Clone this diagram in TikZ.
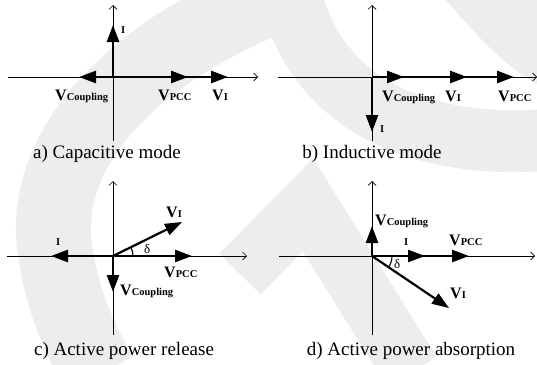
\documentclass[tikz,border=0pt]{standalone}
\usepackage{fontspec}
\setmainfont{Liberation Serif}
\usetikzlibrary{arrows.meta}
\newcommand{\Vph}[1]{{\fontsize{16}{16}\selectfont\bfseries V}{\fontsize{10.5}{10.5}\selectfont\bfseries #1}}
\newcommand{\Iph}{{\fontsize{10.5}{10.5}\selectfont\bfseries I}}

\begin{document}
\begin{tikzpicture}[x=1pt, y=-1pt,
  axis/.style={-{Straight Barb[length=4pt,width=8pt]}, line width=0.7pt},
  vec/.style={-{Triangle[length=17pt,width=12pt]}, line width=2.6pt},
  lab/.style={anchor=base west, inner sep=0pt},
  captxt/.style={anchor=base, inner sep=0pt, font=\fontsize{19}{19}\selectfont},
  angarc/.style={line width=1.1pt},
  wmark/.style={draw=black!7, line cap=butt}]
%
\useasboundingbox (0,0) rectangle (537,364);
%
% faint logo in the background
\draw[wmark, line width=75pt] (290,-10) .. controls (130,50) and (40,150) .. (55,250) .. controls (62,300) and (80,340) .. (100,375);
\draw[wmark, line width=62pt] (290,-10) .. controls (310,90) and (400,150) .. (545,140);
\fill[black!7] (445,-1) .. controls (480,40) and (510,70) .. (538,85) -- (538,-1) -- cycle;
\draw[wmark, line width=58pt, line join=miter] (240,274) -- (308,205) -- (412,372);
%
% a) capacitive mode
\coordinate (Oa) at (113,77);
\coordinate (XLa) at (8,77);
\coordinate (XRa) at (258,77);
\coordinate (YBa) at (113,141);
\coordinate (YTa) at (113,5);
\coordinate (Ia) at (113,25);
\coordinate (Ca) at (79,77);
\coordinate (Pa) at (188,77);
\coordinate (Va) at (228,77);
\draw[axis] (XLa) -- (XRa);
\draw[axis] (YBa) -- (YTa);
\path (Oa) edge[vec] (Va);
\path (Oa) edge[vec] (Pa);
\path (Oa) edge[vec] (Ca);
\path (Oa) edge[vec] (Ia);
\node (ILa) [lab] at (121,33) {\Iph};
\node (VCa) [lab] at (55,100) {\Vph{Coupling}};
\node (VPa) [lab] at (158,100) {\Vph{PCC}};
\node (VIa) [lab] at (212,100) {\Vph{I}};
\node (capa) [captxt] at (107,158) {a) Capacitive mode};
%
% b) inductive mode
\coordinate (Ob) at (372,77);
\coordinate (XLb) at (278,77);
\coordinate (XRb) at (537,77);
\coordinate (YBb) at (372,141);
\coordinate (YTb) at (372,5);
\coordinate (Ib) at (372,132);
\coordinate (Cb) at (404,77);
\coordinate (Vb) at (467,77);
\coordinate (Pb) at (514,77);
\draw[axis] (XLb) -- (XRb);
\draw[axis] (YBb) -- (YTb);
\path (Ob) edge[vec] (Pb);
\path (Ob) edge[vec] (Vb);
\path (Ob) edge[vec] (Cb);
\path (Ob) edge[vec] (Ib);
\node (ILb) [lab] at (380,132) {\Iph};
\node (VCb) [lab] at (382,101) {\Vph{Coupling}};
\node (VIb) [lab] at (445,101) {\Vph{I}};
\node (VPb) [lab] at (498,101) {\Vph{PCC}};
\node (capb) [captxt] at (372,158) {b) Inductive mode};
%
% c) active power release
\coordinate (Oc) at (113,256);
\coordinate (XLc) at (7,256);
\coordinate (XRc) at (247,256);
\coordinate (YBc) at (113,335);
\coordinate (YTc) at (113,181);
\coordinate (Ic) at (51,256);
\coordinate (Pc) at (192,256);
\coordinate (Cc) at (113,292);
\coordinate (Vc) at (182,222);
\draw[axis] (XLc) -- (XRc);
\draw[axis] (YBc) -- (YTc);
\path (Oc) edge[vec] (Ic);
\path (Oc) edge[vec] (Pc);
\path (Oc) edge[vec] (Cc);
\path (Oc) edge[vec, line width=2.2pt] (Vc);
\draw[angarc] (Oc) ++(20,0) arc[start angle=0, end angle=-26.6, radius=20];
\node (ILc) [lab] at (56,245) {\Iph};
\node (VIc) [lab] at (166,217) {\Vph{I}};
\node (dc) [lab] at (144,253) {\fontsize{13}{13}\selectfont δ};
\node (VPc) [lab] at (164,277) {\Vph{PCC}};
\node (VCc) [lab] at (120,295) {\Vph{Coupling}};
\node (capc) [captxt] at (124,355) {c) Active power release};
%
% d) active power absorption
\coordinate (Od) at (372,256);
\coordinate (XLd) at (279,256);
\coordinate (XRd) at (535,256);
\coordinate (YBd) at (372,335);
\coordinate (YTd) at (372,181);
\coordinate (Cd) at (372,226);
\coordinate (Id) at (425,256);
\coordinate (Pd) at (469,256);
\coordinate (Vd) at (449,308);
\draw[axis] (XLd) -- (XRd);
\draw[axis] (YBd) -- (YTd);
\path (Od) edge[vec] (Pd);
\path (Od) edge[vec] (Id);
\path (Od) edge[vec] (Cd);
\path (Od) edge[vec, line width=2.2pt] (Vd);
\draw[angarc] (Od) ++(20,0) arc[start angle=0, end angle=34, radius=20];
\node (VCd) [lab] at (375,225) {\Vph{Coupling}};
\node (ILd) [lab] at (404,245) {\Iph};
\node (VPd) [lab] at (449,245) {\Vph{PCC}};
\node (dd) [lab] at (394,268) {\fontsize{13}{13}\selectfont δ};
\node (VId) [lab] at (450,298) {\Vph{I}};
\node (capd) [captxt] at (411,355) {d) Active power absorption};
\end{tikzpicture}
\end{document}
